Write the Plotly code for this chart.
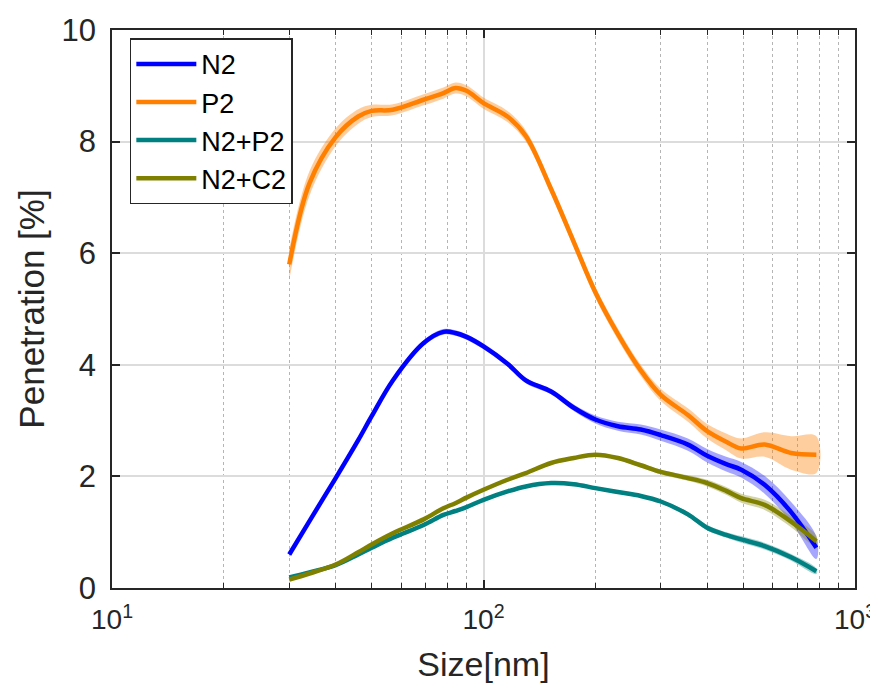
import plotly.graph_objects as go

size_nm = [30, 34, 40, 46, 50, 57, 69, 78, 84, 90, 100, 116, 130, 152, 175,
           200, 230, 265, 300, 355, 400, 450, 494, 571, 673, 787]

n2 = [0.60, 1.20, 1.97, 2.65, 3.08, 3.72, 4.39, 4.59, 4.57, 4.50, 4.33, 4.02,
      3.72, 3.52, 3.23, 3.02, 2.90, 2.84, 2.74, 2.57, 2.37, 2.22, 2.12, 1.85,
      1.36, 0.72]
n2_err = [0.05, 0.05, 0.05, 0.05, 0.05, 0.05, 0.05, 0.05, 0.05, 0.05, 0.05,
          0.05, 0.05, 0.05, 0.06, 0.07, 0.08, 0.09, 0.1, 0.11, 0.12, 0.13,
          0.14, 0.16, 0.18, 0.2]

p2 = [5.80, 7.25, 8.08, 8.45, 8.55, 8.57, 8.75, 8.87, 8.96, 8.91, 8.69, 8.45,
      8.10, 7.15, 6.20, 5.30, 4.55, 3.90, 3.46, 3.10, 2.81, 2.62, 2.50, 2.57,
      2.42, 2.39]
p2_err = [0.28, 0.22, 0.16, 0.13, 0.11, 0.1, 0.1, 0.1, 0.1, 0.1, 0.1, 0.1,
          0.1, 0.1, 0.1, 0.1, 0.1, 0.1, 0.11, 0.12, 0.13, 0.15, 0.18, 0.22,
          0.3, 0.33]

n2p2 = [0.19, 0.28, 0.41, 0.60, 0.72, 0.90, 1.13, 1.31, 1.38, 1.45, 1.58,
        1.73, 1.82, 1.88, 1.86, 1.79, 1.72, 1.65, 1.55, 1.32, 1.08, 0.95,
        0.87, 0.75, 0.55, 0.30]
n2p2_err = [0.03] * 19 + [0.04, 0.05, 0.05, 0.06, 0.06, 0.06, 0.05]

n2c2 = [0.15, 0.26, 0.42, 0.64, 0.78, 0.98, 1.23, 1.43, 1.52, 1.62, 1.76,
        1.94, 2.06, 2.24, 2.33, 2.39, 2.33, 2.20, 2.08, 1.97, 1.88, 1.74,
        1.61, 1.49, 1.19, 0.84]
n2c2_err = [0.03] * 17 + [0.04, 0.04, 0.05, 0.06, 0.07, 0.08, 0.09, 0.1, 0.1]

names = ["N2", "P2", "N2+P2", "N2+C2"]
series = [n2, p2, n2p2, n2c2]
errors = [n2_err, p2_err, n2p2_err, n2c2_err]
colors = ["#0000FF", "#FF7F00", "#008080", "#808000"]
fills = ["rgba(0,0,255,0.35)", "rgba(255,127,0,0.38)",
         "rgba(0,128,128,0.35)", "rgba(128,128,0,0.35)"]

major_x = [10, 100, 1000]
major_x_text = ["10<sup>1</sup>", "10<sup>2</sup>", "10<sup>3</sup>"]
minor_x = [20, 30, 40, 50, 60, 70, 80, 90, 200, 300, 400, 500, 600, 700, 800, 900]
y_ticks = [0, 2, 4, 6, 8, 10]

fig = go.Figure()

for name, ys, es, fc in zip(names, series, errors, fills):
    upper = [y + e for y, e in zip(ys, es)]
    lower = [y - e for y, e in zip(ys, es)]
    fig.add_trace(go.Scatter(
        x=size_nm + size_nm[::-1], y=upper + lower[::-1],
        fill="toself", fillcolor=fc, line=dict(width=0, shape="spline"),
        mode="lines", hoverinfo="skip", showlegend=False))

for i, (name, ys, c) in enumerate(zip(names, series, colors)):
    fig.add_trace(go.Scatter(
        x=size_nm, y=ys, name=name, mode="lines",
        line=dict(color=c, width=4.5, shape="spline"),
        legendgroup="g%d" % i))

FAM = "Liberation Sans, Arial, sans-serif"
ytick_font = dict(family=FAM, size=31, color="#262626")
xtick_font = dict(family=FAM, size=28, color="#262626")
xtitle_font = dict(family=FAM, size=34, color="#262626")
ytitle_font = dict(family=FAM, size=35, color="#262626")

fig.update_layout(
    width=878, height=688,
    margin=dict(l=104, r=31, t=22, b=108),
    paper_bgcolor="white", plot_bgcolor="white",
    font=dict(family=FAM, color="#262626"),
    showlegend=True,
    legend=dict(
        x=0.024, y=0.985, xanchor="left", yanchor="top",
        bgcolor="white", bordercolor="#262626", borderwidth=1.5,
        font=dict(size=27, color="#000000", family=FAM),
        tracegroupgap=0, itemwidth=60,
    ),
)

fig.update_xaxes(
    type="log", range=[1, 3], automargin=False,
    tickmode="array", tickvals=major_x, ticktext=major_x_text,
    tickfont=xtick_font, ticks="inside", ticklen=8, tickwidth=1.5,
    tickcolor="#262626", ticklabelstandoff=6,
    showline=True, linecolor="#262626", linewidth=1.5, mirror="ticks",
    showgrid=True, gridcolor="#dcdcdc", gridwidth=1.5,
    zeroline=False,
    minor=dict(tickmode="array", tickvals=minor_x, ticks="inside",
               ticklen=5, tickwidth=1.2, tickcolor="#262626",
               showgrid=True, gridcolor="#b5b5b5", griddash="dot",
               gridwidth=1),
    title=dict(text="Size[nm]", font=xtitle_font, standoff=18),
)

fig.update_yaxes(
    range=[0, 10], automargin=False,
    tickmode="array", tickvals=y_ticks,
    tickfont=ytick_font, ticks="inside", ticklen=8, tickwidth=1.5,
    tickcolor="#262626", ticklabelstandoff=8,
    showline=True, linecolor="#262626", linewidth=1.5, mirror="ticks",
    showgrid=True, gridcolor="#dcdcdc", gridwidth=1.5,
    zeroline=False,
    title=dict(text="Penetration [%]", font=ytitle_font, standoff=6),
)

fig.write_html("out.html")
